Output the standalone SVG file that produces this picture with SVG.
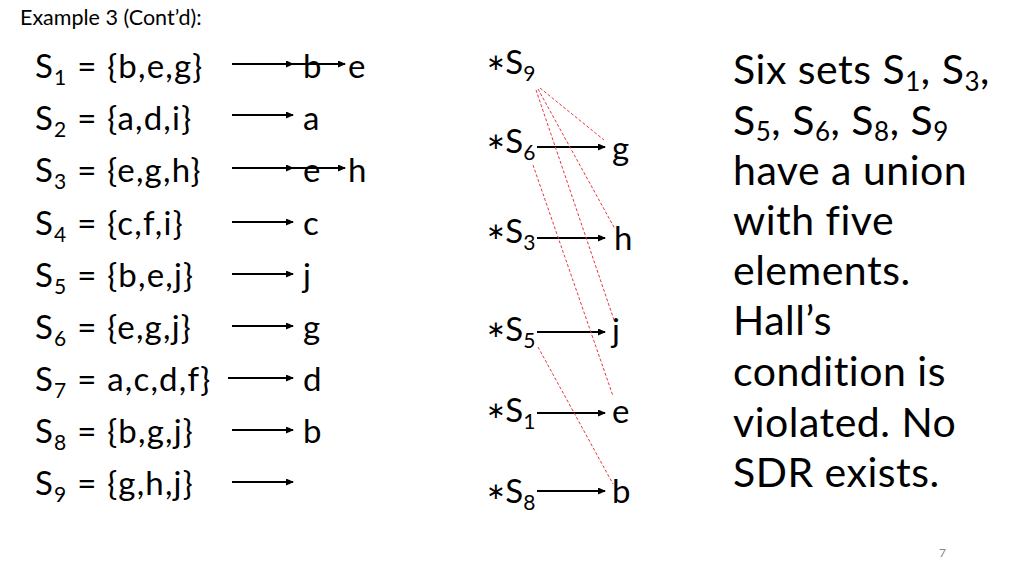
<svg xmlns="http://www.w3.org/2000/svg" width="1024" height="576" viewBox="0 0 1024 576">
<defs>
<style>
.t{font-family:"Lato","Open Sans","Liberation Sans",sans-serif;font-weight:400;fill:#000}
.l{font-size:33px;letter-spacing:1.2px}
.m{font-size:33px}
.r{font-size:41px;letter-spacing:0.5px}
.sub{font-size:21px}
.rsub{font-size:26px}
.ast{font-family:"DejaVu Sans","Liberation Sans",sans-serif;font-size:23px}
.arr{stroke:#000;stroke-width:2;fill:none;marker-end:url(#ah)}
.red{stroke:#e8383d;stroke-width:1;stroke-dasharray:3 2;fill:none}
</style>
<marker id="ah" markerUnits="userSpaceOnUse" markerWidth="8" markerHeight="8" refX="7" refY="3.5" orient="auto">
<path d="M0,0 L8,3.5 L0,7 z" fill="#000"/>
</marker>
</defs>
<rect width="1024" height="576" fill="#fff"/>
<text id="title" class="t" x="20" y="25" font-size="21.5">Example 3 (Cont’d):</text>

<g id="sets">
<g id="set1"><text class="t l" x="35" y="78">S<tspan class="sub" dy="7">1</tspan><tspan dy="-7"> = {b,e,g}</tspan></text></g>
<g id="set2"><text class="t l" x="35" y="130">S<tspan class="sub" dy="7">2</tspan><tspan dy="-7"> = {a,d,i}</tspan></text></g>
<g id="set3"><text class="t l" x="35" y="182">S<tspan class="sub" dy="7">3</tspan><tspan dy="-7"> = {e,g,h}</tspan></text></g>
<g id="set4"><text class="t l" x="35" y="235">S<tspan class="sub" dy="7">4</tspan><tspan dy="-7"> = {c,f,i}</tspan></text></g>
<g id="set5"><text class="t l" x="35" y="287">S<tspan class="sub" dy="7">5</tspan><tspan dy="-7"> = {b,e,j}</tspan></text></g>
<g id="set6"><text class="t l" x="35" y="339">S<tspan class="sub" dy="7">6</tspan><tspan dy="-7"> = {e,g,j}</tspan></text></g>
<g id="set7"><text class="t l" x="35" y="391">S<tspan class="sub" dy="7">7</tspan><tspan dy="-7"> = a,c,d,f}</tspan></text></g>
<g id="set8"><text class="t l" x="35" y="443">S<tspan class="sub" dy="7">8</tspan><tspan dy="-7"> = {b,g,j}</tspan></text></g>
<g id="set9"><text class="t l" x="35" y="495">S<tspan class="sub" dy="7">9</tspan><tspan dy="-7"> = {g,h,j}</tspan></text></g>
</g>

<g id="reps">
<text id="rep1b" class="t m" x="303" y="78">b</text>
<text id="rep1e" class="t m" x="348" y="78">e</text>
<text id="rep2" class="t m" x="303" y="130">a</text>
<text id="rep3e" class="t m" x="303" y="182">e</text>
<text id="rep3h" class="t m" x="348" y="182">h</text>
<text id="rep4" class="t m" x="303" y="235">c</text>
<text id="rep5" class="t m" x="303" y="287">j</text>
<text id="rep6" class="t m" x="303" y="339">g</text>
<text id="rep7" class="t m" x="303" y="391">d</text>
<text id="rep8" class="t m" x="303" y="443">b</text>
</g>

<g id="middle">
<g id="m9"><text class="t m" x="486" y="74"><tspan class="ast" dy="-4">∗</tspan><tspan dy="4">S</tspan><tspan class="sub" dy="7">9</tspan></text></g>
<g id="m6"><text class="t m" x="486" y="153"><tspan class="ast" dy="-4">∗</tspan><tspan dy="4">S</tspan><tspan class="sub" dy="7">6</tspan></text></g>
<g id="m3"><text class="t m" x="486" y="243"><tspan class="ast" dy="-4">∗</tspan><tspan dy="4">S</tspan><tspan class="sub" dy="7">3</tspan></text></g>
<g id="m5"><text class="t m" x="486" y="341"><tspan class="ast" dy="-4">∗</tspan><tspan dy="4">S</tspan><tspan class="sub" dy="7">5</tspan></text></g>
<g id="m1"><text class="t m" x="486" y="422"><tspan class="ast" dy="-4">∗</tspan><tspan dy="4">S</tspan><tspan class="sub" dy="7">1</tspan></text></g>
<g id="m8"><text class="t m" x="486" y="503"><tspan class="ast" dy="-4">∗</tspan><tspan dy="4">S</tspan><tspan class="sub" dy="7">8</tspan></text></g>
<g id="eg"><text class="t m" x="612" y="160">g</text></g>
<g id="eh"><text class="t m" x="614" y="250">h</text></g>
<g id="ej"><text class="t m" x="612" y="342">j</text></g>
<g id="ee"><text class="t m" x="612" y="423">e</text></g>
<g id="eb"><text class="t m" x="612" y="503">b</text></g>
</g>

<g id="connectors">
<line class="arr" x1="232" y1="64" x2="293" y2="64"/>
<line class="arr" x1="293" y1="64" x2="345" y2="64"/>
<line class="arr" x1="232" y1="115" x2="293" y2="115"/>
<line class="arr" x1="232" y1="168" x2="293" y2="168"/>
<line class="arr" x1="293" y1="168" x2="345" y2="168"/>
<line class="arr" x1="232" y1="222" x2="293" y2="222"/>
<line class="arr" x1="232" y1="274" x2="293" y2="274"/>
<line class="arr" x1="232" y1="326" x2="293" y2="326"/>
<line class="arr" x1="228" y1="378" x2="293" y2="378"/>
<line class="arr" x1="232" y1="430" x2="293" y2="430"/>
<line class="arr" x1="232" y1="482" x2="293" y2="482"/>
<line class="arr" x1="537" y1="147" x2="605" y2="147"/>
<line class="arr" x1="537" y1="238" x2="605" y2="238"/>
<line class="arr" x1="537" y1="332" x2="605" y2="332"/>
<line class="arr" x1="537" y1="413" x2="605" y2="413"/>
<line class="arr" x1="537" y1="491" x2="605" y2="491"/>
<line class="red" x1="540" y1="88" x2="604" y2="140"/>
<line class="red" x1="538" y1="89" x2="615" y2="229"/>
<line class="red" x1="536" y1="90" x2="614" y2="320"/>
<line class="red" x1="533" y1="165" x2="613" y2="396"/>
<line class="red" x1="538" y1="347" x2="613" y2="484"/>
</g>

<g id="explanation">
<text class="t r" x="733" y="84">Six sets S<tspan class="rsub" dy="7">1</tspan><tspan dy="-7">, S</tspan><tspan class="rsub" dy="7">3</tspan><tspan dy="-7">,</tspan></text>
<text class="t r" x="733" y="135">S<tspan class="rsub" dy="6">5</tspan><tspan dy="-6">, S</tspan><tspan class="rsub" dy="6">6</tspan><tspan dy="-6">, S</tspan><tspan class="rsub" dy="6">8</tspan><tspan dy="-6">, S</tspan><tspan class="rsub" dy="6">9</tspan></text>
<text class="t r" x="733" y="185">have a union</text>
<text class="t r" x="733" y="235">with five</text>
<text class="t r" x="733" y="285">elements.</text>
<text class="t r" x="733" y="335">Hall’s</text>
<text class="t r" x="733" y="386">condition is</text>
<text class="t r" x="733" y="437">violated. No</text>
<text class="t r" x="733" y="487">SDR exists.</text>
</g>
<text id="pagenum" class="t" x="939" y="557" font-size="12" style="fill:#888">7</text>
</svg>
